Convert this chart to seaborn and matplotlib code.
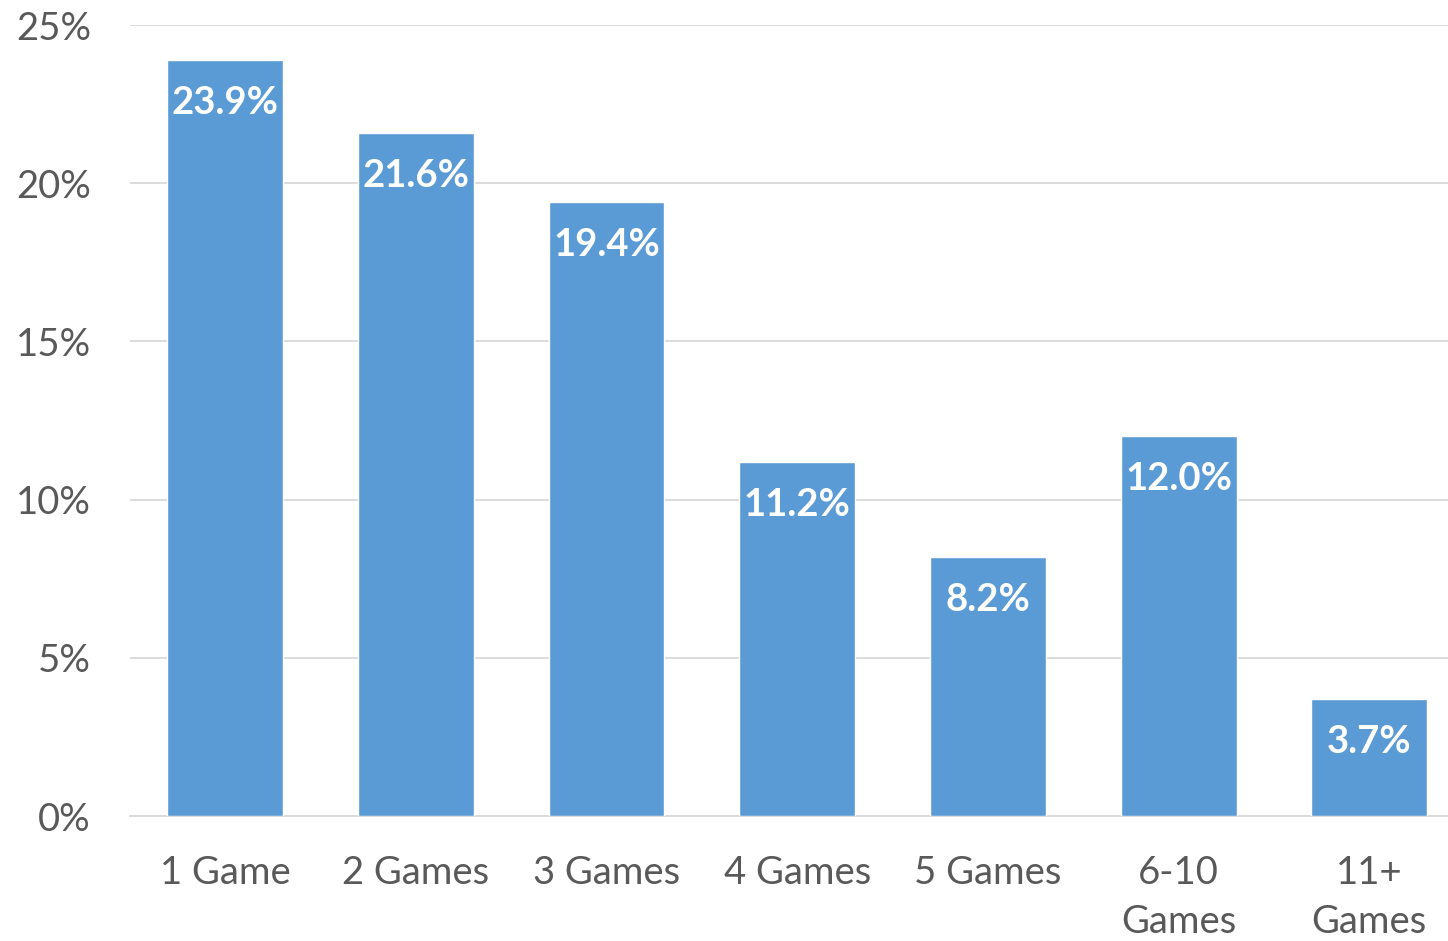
import matplotlib
matplotlib.use("Agg")
import matplotlib.pyplot as plt
import seaborn as sns
import pandas as pd

categories = ["1 Game", "2 Games", "3 Games", "4 Games", "5 Games", "6-10\nGames", "11+\nGames"]
shares = [23.9, 21.6, 19.4, 11.2, 8.2, 12.0, 3.7]
y_ticks = [0, 5, 10, 15, 20, 25]

sns.set_theme(style="white")
plt.rcParams["font.family"] = ["Lato", "DejaVu Sans"]

df = pd.DataFrame({"category": categories, "share": shares})

fig = plt.figure(figsize=(14.48, 9.41), dpi=100)
ax = fig.add_axes([0.0896, 0.1328, 0.9104, 0.8406])

sns.barplot(data=df, x="category", y="share", color="#5B9BD5", saturation=1,
            width=0.608, ax=ax, zorder=3)

ax.set_ylim(0, 25)
ax.set_xlim(-0.5, 6.413)
ax.set_yticks(y_ticks)
ax.set_yticklabels([f"{t}%" for t in y_ticks])
ax.yaxis.grid(True, color="#D9D9D9", linewidth=1.3, zorder=0)
ax.set_axisbelow(True)
for side in ["top", "right", "left"]:
    ax.spines[side].set_visible(False)
ax.spines["bottom"].set_color("#D9D9D9")
ax.spines["bottom"].set_linewidth(1.3)
ax.set_xlabel("")
ax.set_ylabel("")
ax.tick_params(axis="both", length=0, labelsize=27.5, colors="#595959")
ax.tick_params(axis="x", pad=28)
ax.tick_params(axis="y", pad=28)
for lbl in ax.get_yticklabels():
    lbl.set_horizontalalignment("right")
for lbl in ax.get_xticklabels():
    lbl.set_linespacing(1.45)
    lbl.set_verticalalignment("top")

for i, v in enumerate(shares):
    ax.annotate(f"{v:.1f}%", xy=(i, v), xytext=(0, -31), textcoords="offset points",
                ha="center", va="center", color="white", fontsize=27.5, fontweight="bold",
                zorder=4)

fig.savefig("out.png", dpi=100)
